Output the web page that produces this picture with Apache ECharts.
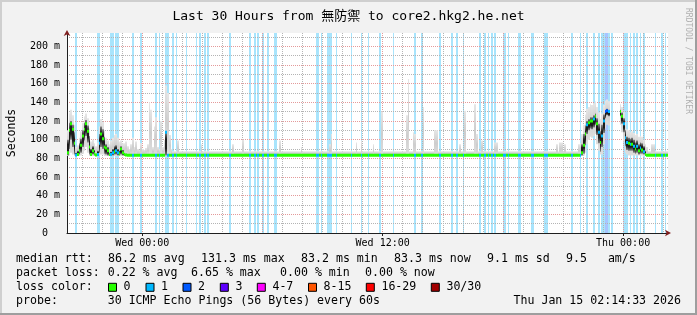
<!DOCTYPE html>
<html><head><meta charset="utf-8">
<script src="https://cdn.jsdelivr.net/npm/echarts@6/dist/echarts.min.js"></script>
<style>html,body{margin:0;padding:0;background:#f2f2f2}#c{width:697px;height:315px}</style>
</head><body><div id="c"></div>
<script>
// ================= DATA =================
const chartTitle = 'Last 30 Hours from 無防禦 to core2.hkg2.he.net';
const slotCount = 360;            // 5-minute slots over 30 hours
const startHour = 20.2425;        // Tue 20:14:33, hours since Tue 00:00
const spanHours = 30;
const yMax = 214.2;               // ms
const medianBase = 83.3;          // ms, quiet-period median
const smokeFloor = 82.6;          // ms, fastest ping in quiet periods

// burst at the start (slots 0..62)
const regionAStart = 0;
const medianA = [86,110,117,111,96,83.5,84,88,94,104,111,117,109,92,84,88,85,83.5,84,96,106,101,92,91,88,84,84,86,87,88,86,85,90,86,84,83.5,
  83.3,83.3,83.3,83.3,83.3,83.3,83.3,83.3,83.3,83.3,83.3,83.3,83.3,83.3,83.3,83.3,83.3,83.3,83.3,83.3,83.3,83.3,83.3,108,83.3,83.3,83.3];
const coreLoA = [83,90,100,92,84,83,83,84,86,92,99,104,97,84,83,84,83,83,83,86,92,90,85,84,83,83,83,83,84,84,83,83,84,83,83,83,
  null,null,null,null,null,null,null,null,null,null,null,null,null,null,null,null,null,null,null,null,null,null,null,83,null,null,null];
const coreHiA = [100,118,120,116,108,86,88,96,101,110,118,121,115,104,90,93,89,85,88,106,114,111,103,95,92,86,87,90,93,94,90,88,93,89,86,85,
  null,null,null,null,null,null,null,null,null,null,null,null,null,null,null,null,null,null,null,null,null,null,null,108,null,null,null];
const smokeLoA = [82.6,83,86,84,82.6,82.6,82.6,82.6,83,85,88,92,86,82.6,82.6,82.6,82.6,82.6,82.6,82.6,84,84,82.6,82.6,82.6,82.6,82.6,82.6,82.6,82.6,82.6,82.6,82.6,82.6,82.6,82.6,
  82.6,82.6,82.6,82.6,82.6,82.6,82.6,82.6,82.6,82.6,82.6,82.6,82.6,82.6,82.6,82.6,82.6,82.6,82.6,82.6,82.6,82.6,82.6,82.6,82.6,82.6,82.6];
const smokeHiA = [110,129,132,126,116,92,94,102,109,118,125,128,123,112,98,100,96,93,97,114,122,119,110,102,99,95,99,102,105,106,102,98,99,96,96,98,
  93,90,95,102,92,98,90,89,96,90,89,91,95,140,132,92,114,124,92,90,120,92,100,158,150,105,90];

// bump near the end (slots 306..347), null = no data
const regionBStart = 306;
const medianB = [83.3,83.3,86,94,106,116,118,120,120,122,125,117,108,97,104,120,130,131,130,null,null,null,null,null,null,
  130,125,117,102,97,96,95,95,93,90,93,88,91,89,87,84,83.3];
const coreLoB = [null,null,83,85,94,106,110,112,111,113,116,105,96,87,92,107,123,126,125,null,null,null,null,null,null,
  125,117,108,93,89,88,88,88,86,85,86,84,85,85,84,83,null];
const coreHiB = [null,null,95,106,115,120,122,124,124,126,128,123,117,109,116,127,132,133,132,null,null,null,null,null,null,
  132,129,123,110,103,102,101,102,100,97,99,95,97,96,93,88,null];
const smokeLoB = [82.6,82.6,82.6,83,86,95,100,103,102,104,106,95,88,84,84,95,112,116,115,null,null,null,null,null,null,
  116,108,98,86,84,83,83,83,83,83,83,83,83,83,82.6,82.6,82.6];
const smokeHiB = [95,96,106,116,127,133,135,138,137,139,141,135,129,122,128,137,142,143,141,null,null,null,null,null,null,
  138,135,129,118,111,110,108,109,107,105,106,103,104,103,100,95,92];

// quiet periods: [fromSlot, toSlot, smoke top ms]
const fuzzSegments = [[63,306,87.5],[348,360,87.5]];
// isolated smoke spikes: [slot, max ms]
const smokeSpikes = [[66,99],[80,95],[99,95],[105,100],[127,99],[140,92],[157,95],[158,106],[173,97],[176,99],[183,95],
  [188,130],[203,126],[204,165],[207,108],[208,106],[213,135],[220,110],[221,110],[235,95],[238,131],[244,138],[245,106],
  [248,99],[256,97],[257,97],[293,95],[295,97],[296,97],[298,95],[350,95],[351,95]];

// packet loss: [slot, lost pings]
const lossSlots = [[5,1],[18,1],[19,1],[26,1],[27,1],[29,1],[30,1],[39,1],[44,1],[53,1],[55,1],[59,1],[60,1],[63,1],[65,1],
  [71,1],[77,1],[79,1],[82,1],[84,1],[97,1],[109,1],[112,1],[114,1],[117,1],[120,1],[124,1],[125,1],[149,1],[150,1],[152,1],
  [156,1],[157,1],[158,1],[161,1],[170,1],[176,1],[180,1],[187,1],[195,1],[208,1],[212,1],[223,1],[230,1],[233,1],[237,1],
  [247,1],[250,1],[252,1],[254,1],[256,1],[261,1],[262,1],[264,1],[270,1],[271,1],[278,1],[279,1],[286,1],[287,1],[302,1],
  [307,1],[311,1],[315,1],[318,1],[320,1],[321,1],[322,2],[323,2],[324,1],[326,1],[333,1],[334,1],[335,1],[337,1],[339,1],
  [341,1],[343,1],[345,1],[352,1],[356,1],[358,1]];

const xLabelHours = [24, 36, 48];
const xLabelText = ['Wed 00:00', 'Wed 12:00', 'Thu 00:00'];

const lossLegendLabels = ['0','1','2','3','4-7','8-15','16-29','30/30'];
const lossColors = ['#26ff00','#00b8ff','#0059ff','#5e00ff','#ff00ff','#ff5500','#ff0000','#a10000'];
const lossBgColors = [null,'#a8e4fc','#a8c4ff'];

const rttStats = ['86.2 ms avg','131.3 ms max','83.2 ms min','83.3 ms now','9.1 ms sd','9.5   am/s'];
const lossStats = ['0.22 % avg','6.65 % max','0.00 % min','0.00 % now'];
const probeText = '30 ICMP Echo Pings (56 Bytes) every 60s';
const dateText = 'Thu Jan 15 02:14:33 2026';

// ================= LAYOUT / STYLE =================
const MONO = "'DejaVu Sans Mono', monospace";
const gridGrey = '#b4b4b4', gridRed = '#e49a9a', axisCol = '#1f1f1f', arrowCol = '#801f1f';
const rttX = [108, 201, 301, 394, 487, 566];
const lossX = [107.7, 191, 280, 365];
const legendBoxX = [108, 145.5, 182.5, 219.8, 256.8, 308, 365.8, 430.8];
const lineY = [259.3, 273.3, 287.3, 301.3];

// ================= BUILD SERIES DATA =================
const lossBySlot = {};
lossSlots.forEach(d => { lossBySlot[d[0]] = d[1]; });
const spikeBySlot = {};
smokeSpikes.forEach(d => { spikeBySlot[d[0]] = d[1]; });

const smokeData = [], coreData = [], medianData = [];
for (let s = 0; s < slotCount; s++) {
  let med = null, cLo = null, cHi = null, lo = smokeFloor, hi = null;
  if (s >= regionAStart && s < regionAStart + medianA.length) {
    const i = s - regionAStart; med = medianA[i]; cLo = coreLoA[i]; cHi = coreHiA[i]; lo = smokeLoA[i]; hi = smokeHiA[i];
  } else if (s >= regionBStart && s < regionBStart + medianB.length) {
    const i = s - regionBStart; med = medianB[i]; cLo = coreLoB[i]; cHi = coreHiB[i]; lo = smokeLoB[i]; hi = smokeHiB[i];
  } else {
    med = medianBase;
    fuzzSegments.forEach(f => { if (s >= f[0] && s < f[1]) hi = f[2]; });
    if (spikeBySlot[s] != null) hi = Math.max(hi || 0, spikeBySlot[s]);
  }
  if (hi != null && lo != null) smokeData.push([s, lo, hi]);
  if (cLo != null && cHi != null) coreData.push([s, cLo, cHi]);
  if (med != null) medianData.push([s, med, lossBySlot[s] || 0]);
}
const lossData = lossSlots.map(d => [d[0], d[1]]);

function slotRect(api, s, lo, hi) {
  const a = api.coord([s, hi]);
  const b = api.coord([s + 1, lo]);
  const x0 = Math.round(a[0]), x1 = Math.round(b[0]);
  return { x: x0, y: a[1], width: Math.max(1, x1 - x0), height: b[1] - a[1] };
}

const coreFill = new echarts.graphic.LinearGradient(0, 0, 0, 1, [
  { offset: 0, color: '#8a8a8a' }, { offset: 0.3, color: '#1c1c1c' },
  { offset: 0.7, color: '#1c1c1c' }, { offset: 1, color: '#8a8a8a' }]);
const smokeFill = new echarts.graphic.LinearGradient(0, 0, 0, 1, [
  { offset: 0, color: '#e6e6e6' }, { offset: 0.5, color: '#cdcdcd' }, { offset: 1, color: '#dedede' }]);

// ================= GRAPHICS (frame, legend, watermark) =================
const txt = (x, y, text, align) => ({
  type: 'text', x: x, y: y, silent: true,
  style: { text: text, font: '11.6px ' + MONO, fill: '#000', textAlign: align || 'left', align: align || 'left',
    textVerticalAlign: 'middle', verticalAlign: 'middle' }
});

const graphics = [
  { type: 'rect', shape: { x: 0, y: 0, width: 697, height: 2 }, style: { fill: '#cfcfcf' }, silent: true },
  { type: 'rect', shape: { x: 0, y: 0, width: 2, height: 315 }, style: { fill: '#cfcfcf' }, silent: true },
  { type: 'rect', shape: { x: 0, y: 313, width: 697, height: 2 }, style: { fill: '#9e9e9e' }, silent: true },
  { type: 'rect', shape: { x: 695, y: 0, width: 2, height: 315 }, style: { fill: '#9e9e9e' }, silent: true },
  { type: 'text', x: 688, y: 61, rotation: -Math.PI / 2, silent: true,
    style: { text: 'RRDTOOL / TOBI OETIKER', font: '8px ' + MONO, fill: '#b0b0b0',
      textAlign: 'center', align: 'center', textVerticalAlign: 'middle', verticalAlign: 'middle' } },
  txt(16, lineY[0], 'median rtt:'),
  txt(16, lineY[1], 'packet loss:'),
  txt(16, lineY[2], 'loss color:'),
  txt(16, lineY[3], 'probe:'),
  txt(107.7, lineY[3], probeText),
  txt(681, lineY[3], dateText, 'right')
];
rttStats.forEach((t, i) => graphics.push(txt(rttX[i], lineY[0], t)));
lossStats.forEach((t, i) => graphics.push(txt(lossX[i], lineY[1], t)));
lossLegendLabels.forEach((t, i) => {
  graphics.push({ type: 'rect', silent: true,
    shape: { x: legendBoxX[i] + 0.5, y: lineY[2] - 4, width: 8, height: 8 },
    style: { fill: lossColors[i], stroke: '#000', lineWidth: 1 } });
  graphics.push(txt(legendBoxX[i] + 15.6, lineY[2], t));
});

// ================= CHART =================
const chart = echarts.init(document.getElementById('c'), null, { renderer: 'canvas', width: 697, height: 315 });
const hiddenAxisBits = { axisLabel: { show: false }, axisTick: { show: false } };
chart.setOption({
  backgroundColor: '#f2f2f2',
  animation: false,
  title: { text: chartTitle, left: 'center', top: 5,
    textStyle: { fontFamily: "'DejaVu Sans Mono','Noto Sans CJK TC',monospace", fontSize: 13, fontWeight: 'normal', color: '#000' } },
  grid: { left: 67, right: 29, top: 33, bottom: 82, show: true, backgroundColor: '#ffffff', borderWidth: 0, z: 0,
    containLabel: false, outerBoundsMode: 'none' },
  xAxis: [
    Object.assign({ type: 'value', min: 0, max: slotCount, position: 'bottom', z: 2,
      axisLine: { show: true, onZero: false, lineStyle: { color: axisCol, width: 1 } },
      splitLine: { show: false } }, hiddenAxisBits),
    Object.assign({ type: 'value', min: startHour, max: startHour + spanHours, splitNumber: 30, minInterval: 1, maxInterval: 1,
      position: 'bottom', offset: 0, z: 2,
      axisLine: { show: true, onZero: false, symbol: ['none', 'arrow'], symbolSize: [5, 6], symbolOffset: [0, 3],
        lineStyle: { color: arrowCol, opacity: 0 } },
      splitLine: { show: true, showMinLine: false, showMaxLine: false, lineStyle: { color: gridGrey, type: [1, 1], width: 1 } } }, hiddenAxisBits),
    Object.assign({ type: 'value', min: startHour / 6, max: (startHour + spanHours) / 6, splitNumber: 5, minInterval: 1, maxInterval: 1,
      position: 'bottom', offset: 0, z: 2, axisLine: { show: false },
      splitLine: { show: true, showMinLine: false, showMaxLine: false, lineStyle: { color: gridRed, type: [1, 1], width: 1 } } }, hiddenAxisBits),
    { type: 'value', min: startHour / 12, max: (startHour + spanHours) / 12, splitNumber: 3, minInterval: 1, maxInterval: 1,
      position: 'bottom', offset: 0, z: 2, axisLine: { show: false }, splitLine: { show: false },
      axisTick: { show: true, length: 3, customValues: xLabelHours.map(h => h / 12), lineStyle: { color: axisCol } },
      axisLabel: { show: true, margin: 5, customValues: xLabelHours.map(h => h / 12), fontFamily: MONO, fontSize: 10, color: '#000',
        formatter: v => { const i = xLabelHours.indexOf(Math.round(v * 12)); return i >= 0 ? xLabelText[i] : ''; } } }
  ],
  yAxis: [
    Object.assign({ type: 'value', min: 0, max: yMax, interval: 10, position: 'left', z: 2,
      axisLine: { show: true, onZero: false, lineStyle: { color: axisCol } },
      splitLine: { show: true, showMinLine: false, showMaxLine: false, lineStyle: { color: gridGrey, type: [1, 1] } } }, hiddenAxisBits),
    { type: 'value', min: 0, max: yMax, interval: 20, position: 'left', offset: 0, z: 2,
      axisLine: { show: true, onZero: false, symbol: ['none', 'arrow'], symbolSize: [5, 6], symbolOffset: [0, 3],
        lineStyle: { color: arrowCol, opacity: 0 } },
      axisTick: { show: false },
      axisLabel: { show: true, margin: 7, showMaxLabel: false, fontFamily: MONO, fontSize: 10, color: '#000',
        formatter: v => (v === 0 ? '0  ' : v + ' m') },
      splitLine: { show: true, showMinLine: false, showMaxLine: false, lineStyle: { color: gridRed, type: [1, 1] } },
      name: 'Seconds', nameLocation: 'middle', nameGap: 49,
      nameTextStyle: { fontFamily: MONO, fontSize: 11.5, color: '#000' } }
  ],
  series: [
    { type: 'custom', name: 'loss', z: 1, xAxisIndex: 0, yAxisIndex: 0, data: lossData, encode: { x: 0, y: 1 }, silent: true,
      renderItem: (p, api) => ({ type: 'rect', shape: slotRect(api, api.value(0), 0, yMax),
        style: { fill: lossBgColors[api.value(1)] || lossBgColors[1] } }) },
    { type: 'custom', name: 'smoke', z: 3, xAxisIndex: 0, yAxisIndex: 0, data: smokeData, encode: { x: 0, y: [1, 2] }, silent: true,
      renderItem: (p, api) => ({ type: 'rect', shape: slotRect(api, api.value(0), api.value(1), api.value(2)),
        style: { fill: smokeFill } }) },
    { type: 'custom', name: 'core', z: 4, xAxisIndex: 0, yAxisIndex: 0, data: coreData, encode: { x: 0, y: [1, 2] }, silent: true,
      renderItem: (p, api) => ({ type: 'rect', shape: slotRect(api, api.value(0), api.value(1), api.value(2)),
        style: { fill: coreFill } }) },
    { type: 'custom', name: 'median', z: 5, xAxisIndex: 0, yAxisIndex: 0, data: medianData, encode: { x: 0, y: 1 }, silent: true,
      renderItem: (p, api) => {
        const r = slotRect(api, api.value(0), api.value(1), api.value(1));
        return { type: 'rect', shape: { x: r.x, y: r.y - 1.5, width: r.width, height: 3 },
          style: { fill: lossColors[api.value(2)] } };
      } }
  ],
  graphic: graphics
});
</script></body></html>
